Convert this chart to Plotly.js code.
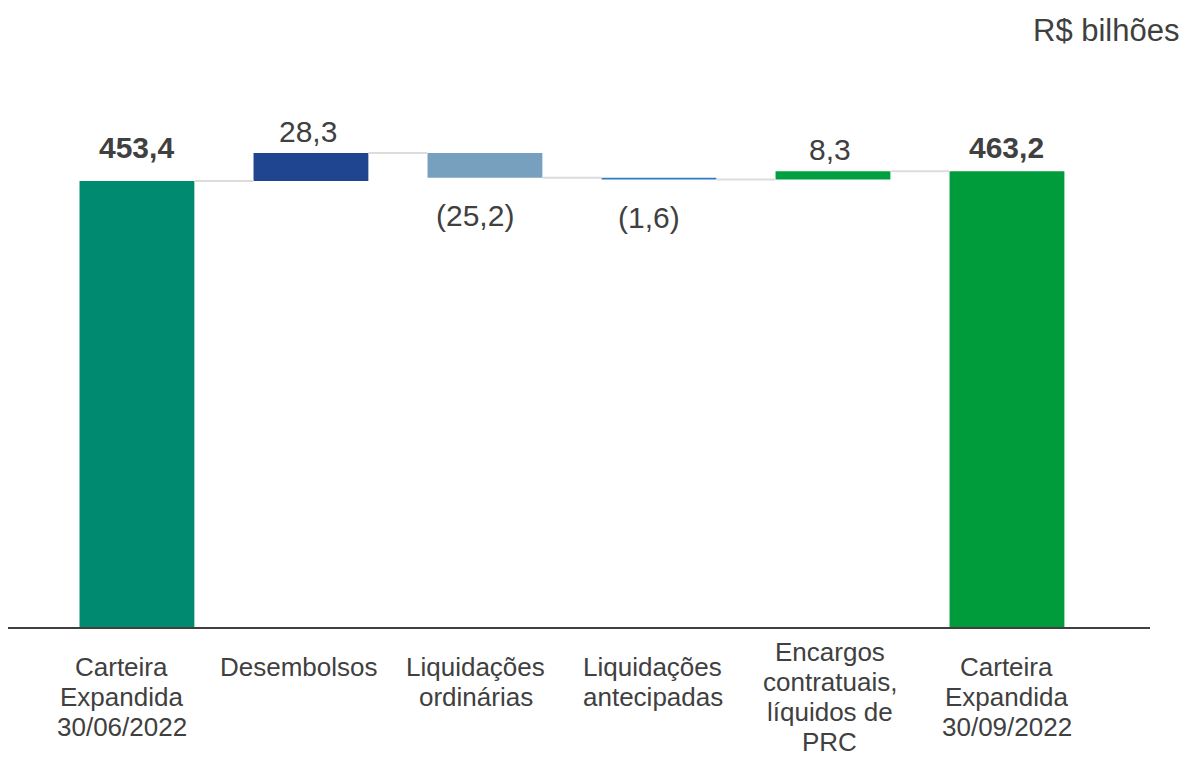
<!DOCTYPE html>
<html>
<head>
<meta charset="utf-8">
<script src="https://cdn.plot.ly/plotly-3.0.1.min.js"></script>
<style>html,body{margin:0;padding:0;background:#fff;}#chart{width:1186px;height:759px;}</style>
</head>
<body>
<div id="chart"></div>
<script>
// ---- data ----
const categories = [
  "Carteira<br>Expandida<br>30/06/2022",
  "Desembolsos",
  "Liquidações<br>ordinárias",
  "Liquidações<br>antecipadas",
  "Encargos<br>contratuais,<br>líquidos de<br>PRC",
  "Carteira<br>Expandida<br>30/09/2022"
];
const measures = ["absolute", "relative", "relative", "relative", "relative", "total"];
const values = [453.4, 28.3, -25.2, -1.6, 8.3, 463.2];
const barColors = ["#008B70", "#1F4590", "#779FBE", "#2E7BC4", "#00A040", "#009B3A"];
const unitLabel = "R$ bilhões";

// ---- derived ----
const textColor = "#404040";
const fontFam = "'Liberation Sans', Arial, sans-serif";
const barW = 0.66;
let running = 0;
const bases = [], heights = [], tops = [], bottoms = [], levels = [];
values.forEach((v, i) => {
  const m = measures[i];
  if (m === "absolute" || m === "total") { bases.push(0); heights.push(v); running = v; }
  else { bases.push(running); heights.push(v); running += v; }
  tops.push(Math.max(bases[i], bases[i] + heights[i]));
  bottoms.push(Math.min(bases[i], bases[i] + heights[i]));
  levels.push(running);
});
const xs = categories.map((_, i) => i);

function fmt(v) {
  const s = Math.abs(v).toFixed(1).replace(".", ",");
  return v < 0 ? "(" + s + ")" : s;
}

const traces = [];
traces.push({
  type: "bar", x: xs, y: heights, base: bases, width: barW,
  marker: {color: barColors, line: {width: 0}},
  hoverinfo: "skip", showlegend: false
});
// connectors
const cx = [], cy = [];
for (let i = 0; i < values.length - 1; i++) {
  cx.push(i + barW / 2, i + 1 - barW / 2, null);
  cy.push(levels[i], levels[i], null);
}
traces.push({
  type: "scatter", mode: "lines", x: cx, y: cy,
  line: {color: "#DCDCDC", width: 2}, hoverinfo: "skip", showlegend: false
});

const annotations = [];
const totalTop = Math.max(...values.filter((v, i) => measures[i] !== "relative"));
values.forEach((v, i) => {
  const isTotal = measures[i] !== "relative";
  if (isTotal) {
    annotations.push({x: i, y: totalTop, xref: "x", yref: "y", text: "<b>" + fmt(v) + "</b>",
      showarrow: false, yanchor: "middle", yshift: 24,
      font: {family: fontFam, size: 30, color: textColor}});
  } else if (v >= 0) {
    annotations.push({x: i, y: tops[i], xref: "x", yref: "y", text: fmt(v),
      showarrow: false, yanchor: "middle", yshift: 22, xshift: -3,
      font: {family: fontFam, size: 30, color: textColor}});
  } else {
    annotations.push({x: i, y: bottoms[i], xref: "x", yref: "y", text: fmt(v),
      showarrow: false, yanchor: "middle", yshift: -38, xshift: -10,
      font: {family: fontFam, size: 30, color: textColor}});
  }
});
// category labels, one annotation per line
categories.forEach((c, i) => {
  const lines = c.split("<br>");
  const start = 40 - Math.max(0, lines.length - 3) * 15;
  lines.forEach((ln, k) => {
    annotations.push({x: i, y: 0, xref: "x", yref: "paper", text: ln,
      showarrow: false, yanchor: "middle", yshift: -(start + k * 30), xshift: -15 + 3 * i,
      font: {family: fontFam, size: 26, color: textColor}});
  });
});
annotations.push({x: 1, y: 1, xref: "paper", yref: "paper", xanchor: "right", yanchor: "middle",
  text: unitLabel, showarrow: false, xshift: 31, yshift: 46,
  font: {family: fontFam, size: 31, color: textColor}});

const layout = {
  width: 1186, height: 759,
  margin: {l: 8, r: 36, t: 76, b: 132},
  paper_bgcolor: "#fff", plot_bgcolor: "#fff",
  xaxis: {range: [-0.741, 5.822], showgrid: false, zeroline: false, showticklabels: false,
    ticks: "", showline: true, linecolor: "#404040", linewidth: 2, fixedrange: true},
  yaxis: {range: [0, 560], visible: false, fixedrange: true},
  annotations: annotations,
  showlegend: false
};
Plotly.newPlot("chart", traces, layout, {staticPlot: true, displayModeBar: false});
</script>
</body>
</html>
